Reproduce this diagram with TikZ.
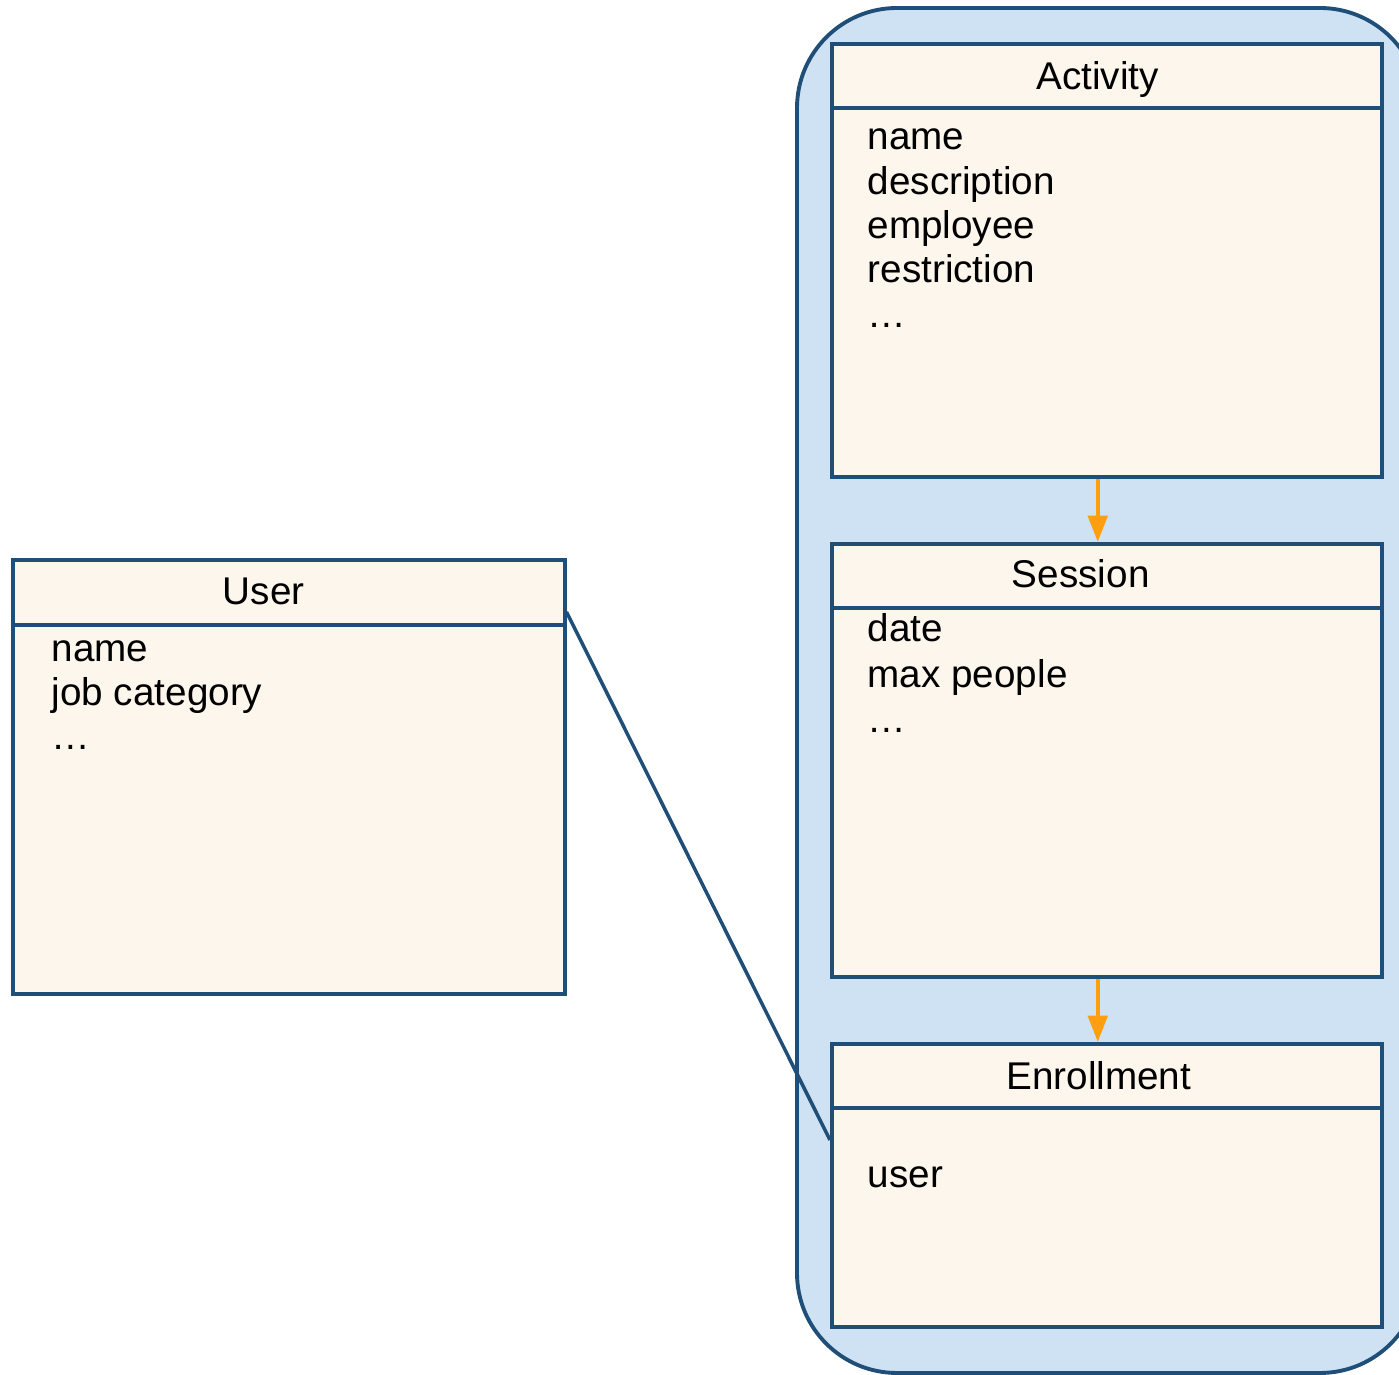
\documentclass[tikz,border=0pt]{standalone}
\usepackage{fontspec}
\setmainfont{Liberation Sans}
\usetikzlibrary{calc}
\usetikzlibrary{shapes,arrows,arrows.meta}

\definecolor{umlblue}{HTML}{1F4E79}
\definecolor{umlcream}{HTML}{FDF6EC}
\definecolor{pkgblue}{HTML}{CFE2F3}
\definecolor{floworange}{HTML}{FF9E0F}

\tikzset{
  classbox/.style={draw=umlblue, fill=umlcream, line width=1pt, rectangle,
    anchor=north west, inner sep=0pt, minimum width=5.5cm},
  headline/.style={draw=umlblue, line width=1pt},
  pkg/.style={draw=umlblue, fill=pkgblue, line width=1.1pt, rounded corners=1cm},
  classname/.style={font=\fontsize{11}{13}\selectfont, inner sep=0pt, anchor=base},
  attr/.style={font=\fontsize{11}{13}\selectfont, inner sep=0pt, anchor=base west},
  flow/.style={draw=floworange, line width=1.2pt, -{Triangle[width=5.5pt,length=7.5pt]}},
  assoc/.style={draw=umlblue, line width=1pt},
}

\begin{document}
\begin{tikzpicture}
    \useasboundingbox (0,0) rectangle (13.99,-13.75);
    % package round the three classes
    \draw [pkg] (7.97,-0.08) rectangle (14.20,-13.73);
    % classes
    \node [classbox, minimum height=4.33cm] (activity) at (8.30,-0.42) {};
    \node [classbox, minimum height=4.33cm] (session) at (8.30,-5.42) {};
    \node [classbox, minimum height=2.83cm] (enrollment) at (8.30,-10.42) {};
    \node [classbox, minimum width=5.52cm, minimum height=4.34cm] (user) at (0.11,-5.58) {};
    \foreach \c in {activity,session,enrollment}
      \draw [headline] ([yshift=-0.66cm]\c.north west) -- ([yshift=-0.66cm]\c.north east);
    \draw [headline] ([yshift=-0.67cm]user.north west) -- ([yshift=-0.67cm]user.north east);
    % class names
    \node [classname] (activity-name) at ([xshift=-0.09cm,yshift=-0.48cm]activity.north) {Activity};
    \node [classname] (session-name) at ([xshift=-0.26cm,yshift=-0.46cm]session.north) {Session};
    \node [classname] (enrollment-name) at ([xshift=-0.08cm,yshift=-0.48cm]enrollment.north) {Enrollment};
    \node [classname] (user-name) at ([xshift=-0.25cm,yshift=-0.47cm]user.north) {User};
    % attributes
    \foreach \t [count=\i] in {name,description,employee,restriction,\dots}
      \node [attr] (activity-\i) at ($(activity.north west)+(0.37,-1.08-0.443*\i+0.443)$) {\t};
    \foreach \t [count=\i] in {date,max people,\dots}
      \node [attr] (session-\i) at ($(session.north west)+(0.37,-1.00-0.455*\i+0.455)$) {\t};
    \node [attr] (enrollment-1) at ($(enrollment.north west)+(0.37,-1.46)$) {user};
    \foreach \t [count=\i] in {name,job category,\dots}
      \node [attr] (user-\i) at ($(user.north west)+(0.40,-1.04-0.44*\i+0.44)$) {\t};
    % connectors
    \draw [flow] ([xshift=-0.09cm]activity.south) -- ([xshift=-0.09cm]session.north);
    \draw [flow] ([xshift=-0.09cm]session.south) -- ([xshift=-0.09cm]enrollment.north);
    \draw [assoc] ([yshift=-0.54cm]user.north east) -- ([yshift=-0.98cm]enrollment.north west);
\end{tikzpicture}
\end{document}
